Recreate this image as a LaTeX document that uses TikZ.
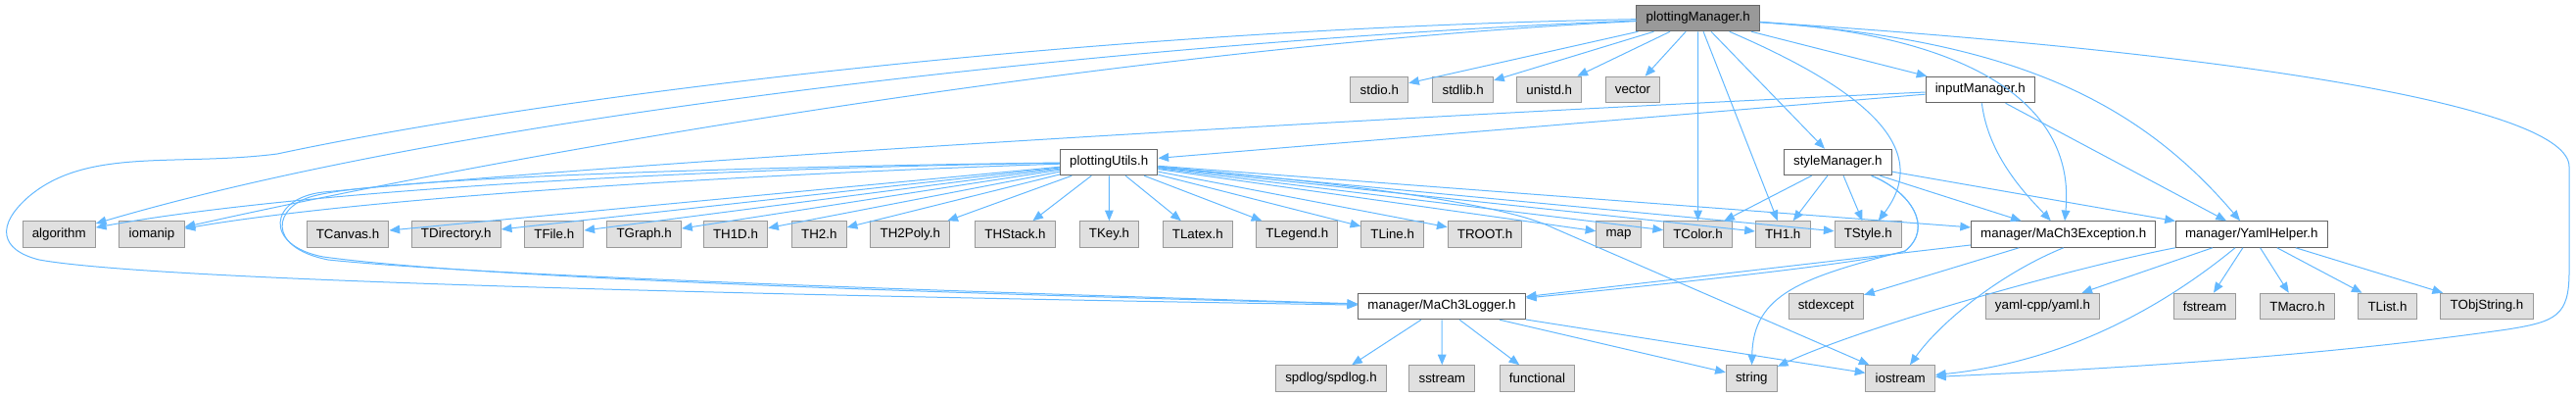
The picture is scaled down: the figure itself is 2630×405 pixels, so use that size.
\documentclass[tikz,border=0pt]{standalone}
\usepackage{fontspec}
\setmainfont{Liberation Sans}
\usepackage{xcolor}
\usetikzlibrary{arrows.meta}

\definecolor{edgeblue}{HTML}{63B8FF}
\definecolor{sysfill}{HTML}{E0E0E0}
\definecolor{sysline}{HTML}{999999}
\definecolor{hdrline}{HTML}{666666}
\definecolor{rootfill}{HTML}{999999}

\begin{document}
\begin{tikzpicture}[
      x=0.75pt, y=-0.75pt,
      font=\fontsize{10}{12}\selectfont,
      hdr/.style={draw=hdrline, line width=0.75pt, fill=white, minimum height=19.9pt, inner xsep=7.3pt, inner ysep=0pt},
      sys/.style={hdr, draw=sysline, fill=sysfill},
      root/.style={hdr, fill=rootfill},
      inc/.style={-{Triangle[length=8pt,width=6.5pt]}, color=edgeblue, line width=0.75pt}
  ]
    \useasboundingbox (0,0) rectangle (2630,405);
    % top and first levels
    \node[root] (plotMgr) at (1733.7,18.5) {plottingManager.h};
    \node[sys] (stdio) at (1408.3,91.5) {stdio.h};
    \node[sys] (stdlib) at (1493.7,91.5) {stdlib.h};
    \node[sys] (unistd) at (1581.7,91.5) {unistd.h};
    \node[sys] (vector) at (1667,91.5) {vector};
    \node[hdr] (inputMgr) at (2021.7,91.5) {inputManager.h};
    \node[hdr] (plotUtils) at (1132.2,165.5) {plottingUtils.h};
    \node[hdr] (styleMgr) at (1876.3,165.5) {styleManager.h};
    % row of ROOT / std headers
    \node[sys] (algorithm) at (60.2,239) {algorithm};
    \node[sys] (iomanip) at (155,239) {iomanip};
    \node[sys] (TCanvas) at (355,239) {TCanvas.h};
    \node[sys] (TDirectory) at (465.8,239) {TDirectory.h};
    \node[sys] (TFile) at (565.8,239) {TFile.h};
    \node[sys] (TGraph) at (657.7,239) {TGraph.h};
    \node[sys] (TH1D) at (751,239) {TH1D.h};
    \node[sys] (TH2) at (836.3,239) {TH2.h};
    \node[sys] (TH2Poly) at (929.3,239) {TH2Poly.h};
    \node[sys] (THStack) at (1036.5,239) {THStack.h};
    \node[sys] (TKey) at (1132.5,239) {TKey.h};
    \node[sys] (TLatex) at (1222.8,239) {TLatex.h};
    \node[sys] (TLegend) at (1324.3,239) {TLegend.h};
    \node[sys] (TLine) at (1421.7,239) {TLine.h};
    \node[sys] (TROOT) at (1516,239) {TROOT.h};
    \node[sys] (map) at (1652.5,239) {map};
    \node[sys] (TColor) at (1733.5,239) {TColor.h};
    \node[sys] (TH1) at (1820.2,239) {TH1.h};
    \node[sys] (TStyle) at (1907.2,239) {TStyle.h};
    \node[hdr] (excpt) at (2106.7,239) {manager/MaCh3Exception.h};
    \node[hdr] (yamlHlp) at (2298.8,239) {manager/YamlHelper.h};
    % lower rows
    \node[hdr] (logger) at (1472,312.5) {manager/MaCh3Logger.h};
    \node[sys] (stdexcept) at (1864.3,312.5) {stdexcept};
    \node[sys] (yamlcpp) at (2085.5,312.5) {yaml-cpp/yaml.h};
    \node[sys] (fstream) at (2251,312.5) {fstream};
    \node[sys] (TMacro) at (2345.5,312.5) {TMacro.h};
    \node[sys] (TList) at (2437.5,312.5) {TList.h};
    \node[sys] (TObjString) at (2539,312.5) {TObjString.h};
    \node[sys] (spdlog) at (1359,386) {spdlog/spdlog.h};
    \node[sys] (sstream) at (1472.3,386) {sstream};
    \node[sys] (functional) at (1569.5,386) {functional};
    \node[sys] (string) at (1788.3,386) {string};
    \node[sys] (iostream) at (1940.2,386) {iostream};

    % plottingManager.h
    \draw[inc] (plotMgr) .. controls (1200,40) and (500,110) .. (algorithm);
    \draw[inc] (plotMgr) .. controls (1200,45) and (600,140) .. (iomanip);
    \draw[inc] (plotMgr) .. controls (1100,30) and (550,100) .. (283,157) .. controls (180,170) and (90,150) .. (30,200) .. controls (-5,230) and (0,255) .. (40,265) .. controls (150,285) and (700,300) .. (logger);
    \draw[inc] (plotMgr) -- (stdio);
    \draw[inc] (plotMgr) -- (stdlib);
    \draw[inc] (plotMgr) -- (unistd);
    \draw[inc] (plotMgr) -- (vector);
    \draw[inc] (plotMgr) -- (inputMgr);
    \draw[inc] (plotMgr) -- (styleMgr);
    \draw[inc] (plotMgr) -- (TColor);
    \draw[inc] (plotMgr) -- (TH1);
    \draw[inc] (plotMgr) .. controls (1900,90) and (1975,150) .. (TStyle);
    \draw[inc] (plotMgr) .. controls (2000,35) and (2120,100) .. (excpt);
    \draw[inc] (plotMgr) .. controls (2050,40) and (2180,100) .. (yamlHlp);
    \draw[inc] (plotMgr) .. controls (2300,55) and (2623,110) .. (2623,170) -- (2623,277) .. controls (2623,322) and (2610,328) .. (2560,336) .. controls (2420,356) and (2250,372) .. (iostream);

    % inputManager.h
    \draw[inc] (inputMgr) -- (plotUtils);
    \draw[inc] (inputMgr) .. controls (1500,115) and (700,160) .. (330,196) .. controls (275,202) and (268,250) .. (330,262) .. controls (500,285) and (1000,300) .. (logger);
    \draw[inc] (inputMgr) .. controls (2030,160) and (2070,200) .. (excpt);
    \draw[inc] (inputMgr) -- (yamlHlp);

    % plottingUtils.h
    \draw[inc] (plotUtils) .. controls (700,172) and (300,195) .. (algorithm);
    \draw[inc] (plotUtils) .. controls (700,180) and (350,205) .. (iomanip);
    \draw[inc] (plotUtils) -- (TCanvas);
    \draw[inc] (plotUtils) -- (TDirectory);
    \draw[inc] (plotUtils) -- (TFile);
    \draw[inc] (plotUtils) -- (TGraph);
    \draw[inc] (plotUtils) -- (TH1D);
    \draw[inc] (plotUtils) -- (TH2);
    \draw[inc] (plotUtils) -- (TH2Poly);
    \draw[inc] (plotUtils) -- (THStack);
    \draw[inc] (plotUtils) -- (TKey);
    \draw[inc] (plotUtils) -- (TLatex);
    \draw[inc] (plotUtils) -- (TLegend);
    \draw[inc] (plotUtils) -- (TLine);
    \draw[inc] (plotUtils) -- (TROOT);
    \draw[inc] (plotUtils) -- (map);
    \draw[inc] (plotUtils) -- (TColor);
    \draw[inc] (plotUtils) -- (TH1);
    \draw[inc] (plotUtils) -- (TStyle);
    \draw[inc] (plotUtils) -- (excpt);
    \draw[inc] (plotUtils) .. controls (900,168) and (400,178) .. (320,200) .. controls (280,210) and (270,252) .. (335,265) .. controls (500,282) and (1000,298) .. (logger);
    \draw[inc] (plotUtils) .. controls (1350,185) and (1530,205) .. (1587,233) -- (iostream);

    % styleManager.h
    \draw[inc] (styleMgr) -- (TColor);
    \draw[inc] (styleMgr) -- (TH1);
    \draw[inc] (styleMgr) -- (TStyle);
    \draw[inc] (styleMgr) -- (excpt);
    \draw[inc] (styleMgr) -- (yamlHlp);
    \draw[inc] (styleMgr) .. controls (1950,195) and (1975,232) .. (1945,256) .. controls (1910,268) and (1700,290) .. (logger);
    \draw[inc] (styleMgr) .. controls (1950,195) and (1975,232) .. (1945,256) .. controls (1840,283) and (1790,300) .. (string);

    % manager/MaCh3Exception.h
    \draw[inc] (excpt) -- (logger);
    \draw[inc] (excpt) -- (stdexcept);
    \draw[inc] (excpt.south) .. controls (2040,280) and (1980,330) .. (iostream);

    % manager/YamlHelper.h
    \draw[inc] (yamlHlp.south west) .. controls (2130,270) and (1910,330) .. (string);
    \draw[inc] (yamlHlp) -- (yamlcpp);
    \draw[inc] (yamlHlp) .. controls (2200,320) and (2100,370) .. (iostream);
    \draw[inc] (yamlHlp) -- (fstream);
    \draw[inc] (yamlHlp) -- (TMacro);
    \draw[inc] (yamlHlp) -- (TList);
    \draw[inc] (yamlHlp) -- (TObjString);

    % manager/MaCh3Logger.h
    \draw[inc] (logger) -- (spdlog);
    \draw[inc] (logger) -- (sstream);
    \draw[inc] (logger) -- (functional);
    \draw[inc] (logger) -- (string);
    \draw[inc] (logger) -- (iostream);
  \end{tikzpicture}
\end{document}
